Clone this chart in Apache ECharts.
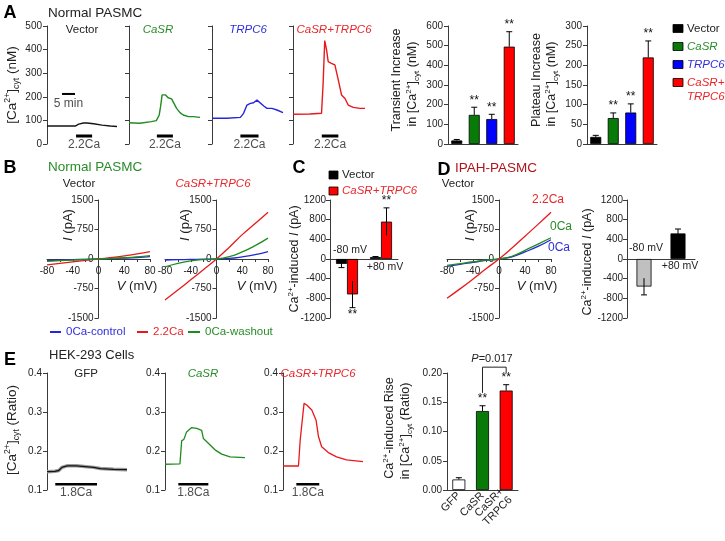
<!DOCTYPE html>
<html><head><meta charset="utf-8">
<script src="https://cdn.jsdelivr.net/npm/echarts@6/dist/echarts.min.js"></script>
<style>html,body{margin:0;padding:0;background:#fff}#c{width:725px;height:541px}</style>
</head><body><div id="c"></div>
<script>
// ================= DATA =================
// Panel A: Ca2+ traces (time min, [Ca2+] nM)
const aVector = [[0,76],[5,76],[10.9,76],[12.2,84],[14.1,89],[15.4,89],[18,86],[21.2,80],[24.4,76],[27,74]];
const aCaSR = [[0,90],[4.1,88],[8.5,95],[10.4,99],[11.5,123],[12.0,158],[12.6,208],[13.0,215],[13.9,208],[14.9,196],[16.2,191],[17.1,172],[18.1,151],[19.4,133],[20.6,123],[22.6,116],[24.5,116],[27,113]];
const aTRPC6 = [[0,109],[5.7,109],[10.8,113],[12.0,130],[13.3,165],[14.6,172],[15.8,175],[17.1,186],[17.8,182],[19.7,161],[20.9,151],[22.8,151],[24.7,144],[27,133]];
const aCaSRTRPC6 = [[0,126],[6.3,127],[10.7,130],[11.3,257],[11.9,438],[12.6,398],[13.2,349],[14.4,342],[15.7,335],[17.0,271],[18.2,208],[19.5,193],[20.7,165],[22.6,155],[25.1,151],[27,151]];
const aTraceTitles = ['Vector','CaSR','TRPC6','CaSR+TRPC6'];
const aCaStart = [11.2,10.6,10.8,10.8];
const aCaEnd = [17.4,16.7,17.7,17.0];
const aCaLevel = 34;
const aScaleBar = [5.8,10.8];
const aScaleLevel = 212;
const aYTicks = [0,500,100];

// Panel A bars
const barCats = ['Vector','CaSR','TRPC6','CaSR+TRPC6'];
const transientMean = [18,148,127,495];
const transientErr = [5,39,24,76];
const plateauMean = [18,66,80,220];
const plateauErr = [4,13,22,42];
const sigA = ['','**','**','**'];

// Panel B: I-V curves
const ivV = [-80,-60,-40,-20,0,20,40,60,80];
const bVecControl = [-40,-28,-18,-8,0,10,22,38,60];
const bVecCa = [-150,-110,-72,-36,0,38,80,130,190];
const bVecWash = [-60,-42,-27,-12,0,14,32,55,85];
const bCoControl = [-25,-18,-12,-5,0,15,55,110,190];
const bCoCa = [-1040,-790,-530,-265,0,300,620,900,1190];
const bCoWash = [-200,-110,-50,-15,0,60,180,340,530];

// Panel C
const cCats = ['-80 mV','+80 mV'];
const cVectorMean = [-100,40];
const cVectorErr = [75,10];
const cCoMean = [-720,760];
const cCoErr = [270,280];
const cSig = ['**','**'];

// Panel D
const dControl = [-190,-135,-85,-35,0,55,180,320,490];
const dCa = [-1000,-760,-510,-250,0,280,580,880,1190];
const dWash = [-160,-115,-70,-30,0,70,220,380,540];
const dCats = ['-80 mV','+80 mV'];
const dMean = [-560,520];
const dErr = [170,90];

// Panel E traces (time a.u., ratio)
const eGFP = [[0,0.147],[3,0.148],[4.4,0.150],[5.6,0.158],[7.5,0.162],[11,0.162],[17.5,0.158],[20,0.155],[25,0.153],[30,0.152]];
const eCaSR = [[0,0.166],[5.6,0.167],[6.25,0.226],[7.1,0.23],[8.1,0.249],[10,0.26],[11.9,0.258],[13.75,0.253],[14.4,0.232],[16.25,0.22],[18.75,0.203],[21.25,0.192],[24.4,0.185],[30,0.183]];
const eCo = [[0,0.1615],[5.8,0.1615],[6.45,0.228],[7.1,0.271],[7.9,0.322],[8.9,0.318],[10.8,0.305],[12.4,0.279],[13.3,0.237],[14.5,0.211],[17,0.196],[20.1,0.185],[23.8,0.177],[30,0.173]];
const eTitles = ['GFP','CaSR','CaSR+TRPC6'];
const eCaStart = [3.1,5,5];
const eCaEnd = [18.75,16.25,13.6];
const eCaLevel = 0.115;

// Panel E bars
const eCats = ['GFP','CaSR','CaSR+\nTRPC6'];
const eMean = [0.018,0.135,0.170];
const eErr = [0.003,0.009,0.010];
const eSig = ['','**','**'];
const eBracket = [[1,0.166],[1,0.21],[2,0.21],[2,0.2]];

// ================= STYLE =================
const FONT = '"Liberation Sans", Arial, Helvetica, sans-serif';
const AX = '#3a3a3a';
const TXT = '#222';
const L_GREEN = '#1f8c1f', L_BLUE = '#2626d9', L_RED = '#e8191c', L_BLACK = '#151515';
const B_BLACK = '#000000', B_GREEN = '#087a08', B_BLUE = '#0000ff', B_RED = '#ff0000';
const T_GREEN = '#2a8c2a', T_BLUE = '#2f2fdc', T_RED = '#e8262b', T_DARKRED = '#b0151c';

const grids = [], xAxis = [], yAxis = [], series = [], G = [];
function addGrid(rect, xa, ya){
  const i = grids.length;
  grids.push(Object.assign({containLabel:false}, rect));
  xAxis.push(Object.assign({gridIndex:i}, xa));
  yAxis.push(Object.assign({gridIndex:i}, ya));
  return i;
}
const axLine = (extra)=>Object.assign({show:true, lineStyle:{color:AX, width:1}}, extra||{});
const axTick = {show:true, length:4, lineStyle:{color:AX, width:1}};
const axLbl = (show, extra)=>Object.assign({show, color:TXT, fontSize:10, fontFamily:FONT, margin:5, formatter:(v)=>String(v)}, extra||{});
const noSplit = {show:false};

function rich(size){
  const base = {fontSize:size, fontFamily:FONT, fill:TXT, color:TXT, lineHeight:size+4};
  return {
    n: base,
    i: Object.assign({}, base, {fontStyle:'italic'}),
    sup: {fontSize:size*0.65, fontFamily:FONT, fill:TXT, color:TXT, lineHeight:size*0.7, verticalAlign:'top'},
    sub: {fontSize:size*0.65, fontFamily:FONT, fill:TXT, color:TXT, lineHeight:size*0.7, verticalAlign:'bottom'}
  };
}
function T(x, y, text, o){
  o = o || {};
  const size = o.size || 11.5;
  const font = (o.italic?'italic ':'') + (o.bold?'bold ':'') + size + 'px ' + FONT;
  const st = {text, font, fill:o.color||TXT, textAlign:o.align||'center', textVerticalAlign:o.va||'middle',
              align:o.align||'center', verticalAlign:o.va||'middle'};
  if (o.rich) st.rich = rich(size);
  G.push({type:'text', x, y, rotation:o.rot||0, z:100, silent:true, style:st});
}
function R(x, y, w, h, color){
  G.push({type:'rect', shape:{x, y, width:w, height:h}, z:100, silent:true, style:{fill:color, stroke:'#000', lineWidth:0.8}});
}
function Ln(x1, y1, x2, y2, color, w){
  G.push({type:'line', shape:{x1, y1, x2, y2}, z:100, silent:true, style:{stroke:color, lineWidth:w||1.5}});
}
function lineSeries(g, data, color, width, extra){
  series.push(Object.assign({type:'line', xAxisIndex:g, yAxisIndex:g, data, symbol:'none', showSymbol:false,
    lineStyle:{color, width:width||1.3}, animation:false, silent:true}, extra||{}));
}
function barMark(g, x0, x1, level, label, width, dist){
  lineSeries(g, [[x0,level],[x1,level]], '#000', width||2.5);
  series.push({type:'scatter', xAxisIndex:g, yAxisIndex:g, data:[[(x0+x1)/2, level]], symbolSize:1,
    itemStyle:{color:'rgba(0,0,0,0)'}, silent:true,
    label:{show:true, formatter:label, position:'bottom', distance:dist||3, color:TXT, fontSize:12, fontFamily:FONT}});
}
function barSeries(g, means, colors, width, extra){
  series.push(Object.assign({type:'bar', xAxisIndex:g, yAxisIndex:g, barWidth:width,
    data: means.map((v,i)=>({value:v, itemStyle:{color:colors[i], borderColor:'#000', borderWidth:0.8}})),
    animation:false, silent:true}, extra||{}));
}
function errSeries(g, means, errs, sigs, offset, both){
  series.push({type:'custom', xAxisIndex:g, yAxisIndex:g, clip:false, z:5, silent:true,
    data: means.map((m,i)=>[i, m, errs[i]]),
    renderItem:(p, api)=>{
      const i = api.value(0), m = api.value(1), e = api.value(2);
      const dir = m >= 0 ? 1 : -1;
      const b = api.coord([i, m]), t = api.coord([i, m + dir*e]), l = api.coord([i, both ? m - dir*e : m]);
      const x = b[0] + offset;
      const ch = [
        {type:'line', shape:{x1:x, y1:l[1], x2:x, y2:t[1]}, style:{stroke:'#000', lineWidth:1}},
        {type:'line', shape:{x1:x-3, y1:t[1], x2:x+3, y2:t[1]}, style:{stroke:'#000', lineWidth:1}}
      ];
      const s = sigs && sigs[p.dataIndex];
      if (s) ch.push({type:'text', style:{text:s, x:x, y:t[1] - dir*1, textAlign:'center', align:'center',
        textVerticalAlign: dir>0?'bottom':'top', verticalAlign: dir>0?'bottom':'top',
        font:'12px ' + FONT, fill:'#111'}});
      return {type:'group', children:ch};
    }});
}

// ================= PANEL A =================
T(10, 13, 'A', {bold:true, size:18, color:'#000'});
T(48, 13, 'Normal PASMC', {size:13.5, align:'left'});
T(12, 85, '{n|[Ca}{sup|2+}{n|]}{sub|cyt}{n| (nM)}', {size:13.5, rot:Math.PI/2, rich:true});
const aTraces = [aVector, aCaSR, aTRPC6, aCaSRTRPC6];
const aColors = [L_BLACK, L_GREEN, L_BLUE, L_RED];
const aTitleColors = [TXT, T_GREEN, T_BLUE, T_RED];
const aLefts = [47, 129, 212, 293], aWidths = [70, 71, 71, 72];
const aTitleX = [82, 158, 248, 334];
aTraces.forEach((tr, k)=>{
  const g = addGrid({left:aLefts[k], top:26, width:aWidths[k], height:118},
    {type:'value', min:0, max:27, show:false},
    {type:'value', min:aYTicks[0], max:aYTicks[1], interval:aYTicks[2], axisLine:axLine(), axisTick:axTick,
     axisLabel:axLbl(k===0), splitLine:noSplit});
  lineSeries(g, tr, aColors[k], 1.4);
  barMark(g, aCaStart[k], aCaEnd[k], aCaLevel, '2.2Ca', 3, 2);
  if (k===0) barMark(g, aScaleBar[0], aScaleBar[1], aScaleLevel, '5 min', 2, 3);
  T(aTitleX[k], 30, aTraceTitles[k], {color:aTitleColors[k], italic:k>0, size:11.5});
});

// Transient bars
const aBarColors = [B_BLACK, B_GREEN, B_BLUE, B_RED];
const gT = addGrid({left:448, top:26, width:70, height:118},
  {type:'category', data:barCats, axisLine:axLine(), axisTick:{show:false}, axisLabel:{show:false}},
  {type:'value', min:0, max:600, interval:100, axisLine:axLine(), axisTick:axTick, axisLabel:axLbl(true), splitLine:noSplit});
barSeries(gT, transientMean, aBarColors, 11);
errSeries(gT, transientMean, transientErr, sigA, 0, false);
T(397, 80, 'Transient Increase', {size:12.5, rot:Math.PI/2});
T(413, 84, '{n|in [Ca}{sup|2+}{n|]}{sub|cyt}{n| (nM)}', {size:12.5, rot:Math.PI/2, rich:true});

// Plateau bars
const gP = addGrid({left:587, top:26, width:70, height:118},
  {type:'category', data:barCats, axisLine:axLine(), axisTick:{show:false}, axisLabel:{show:false}},
  {type:'value', min:0, max:300, interval:50, axisLine:axLine(), axisTick:axTick, axisLabel:axLbl(true), splitLine:noSplit});
barSeries(gP, plateauMean, aBarColors, 11);
errSeries(gP, plateauMean, plateauErr, sigA, 0, false);
T(537, 80, 'Plateau Increase', {size:12.5, rot:Math.PI/2});
T(552, 84, '{n|in [Ca}{sup|2+}{n|]}{sub|cyt}{n| (nM)}', {size:12.5, rot:Math.PI/2, rich:true});

// Legend A
const legA = [['Vector',B_BLACK,TXT,false,28.5],['CaSR',B_GREEN,T_GREEN,true,46.5],['TRPC6',B_BLUE,T_BLUE,true,64.5],['CaSR+',B_RED,T_RED,true,82.5]];
legA.forEach(l=>{ R(673, l[4]-4, 10, 8, l[1]); T(687, l[4], l[0], {align:'left', color:l[2], italic:l[3], size:11.5}); });
T(687, 97, 'TRPC6', {align:'left', color:T_RED, italic:true, size:11.5});

// ================= PANEL B =================
T(10, 168, 'B', {bold:true, size:18, color:'#000'});
T(48, 167, 'Normal PASMC', {size:13.5, align:'left', color:T_GREEN});
T(79, 184, 'Vector', {size:11.5});
T(213, 184, 'CaSR+TRPC6', {size:11.5, italic:true, color:T_RED});
function ivGrid(left, width){
  const height = 118;
  return addGrid({left, top:200, width, height},
    {type:'value', min:-80, max:80, interval:40, position:'bottom', offset:-height/2,
     axisLine:axLine({onZero:false}), axisTick:{show:true, length:3, lineStyle:{color:AX}},
     minorTick:{show:true, splitNumber:2, length:3, lineStyle:{color:AX}},
     axisLabel:axLbl(true, {margin:7}), splitLine:noSplit, minorSplitLine:noSplit},
    {type:'value', min:-1500, max:1500, interval:750, position:'left', offset:-width/2,
     axisLine:axLine({onZero:false}), axisTick:axTick,
     axisLabel:axLbl(true, {margin:5}), splitLine:noSplit});
}
const pair = (ys)=>ivV.map((v,i)=>[v, ys[i]]);
const gB1 = ivGrid(47, 103);
lineSeries(gB1, pair(bVecControl), L_BLUE, 1.3, {smooth:true});
lineSeries(gB1, pair(bVecCa), L_RED, 1.3, {smooth:true});
lineSeries(gB1, pair(bVecWash), L_GREEN, 1.3, {smooth:true});
T(68, 225, '{i|I}{n| (pA)}', {size:13, rot:Math.PI/2, rich:true});
T(137, 286, '{i|V}{n| (mV)}', {size:13, rich:true});
const gB2 = ivGrid(165, 103);
lineSeries(gB2, pair(bCoControl), L_BLUE, 1.3, {smooth:true});
lineSeries(gB2, pair(bCoCa), L_RED, 1.3, {smooth:true});
lineSeries(gB2, pair(bCoWash), L_GREEN, 1.3, {smooth:true});
T(185, 225, '{i|I}{n| (pA)}', {size:13, rot:Math.PI/2, rich:true});
T(257, 286, '{i|V}{n| (mV)}', {size:13, rich:true});
// legend B
Ln(50, 332, 61, 332, L_BLUE, 2); T(66, 332, '0Ca-control', {align:'left', color:T_BLUE, size:11.5});
Ln(137, 332, 148, 332, L_RED, 2); T(153, 332, '2.2Ca', {align:'left', color:T_RED, size:11.5});
Ln(188, 332, 200, 332, L_GREEN, 2); T(205, 332, '0Ca-washout', {align:'left', color:T_GREEN, size:11.5});

// ================= PANEL C =================
T(299, 168, 'C', {bold:true, size:18, color:'#000'});
R(329, 171, 9, 8, B_BLACK); T(342, 175, 'Vector', {align:'left', size:11.5});
R(329, 187, 9, 8, B_RED); T(342, 191, 'CaSR+TRPC6', {align:'left', size:11.5, italic:true, color:T_RED});
const gC = addGrid({left:330, top:200, width:68, height:118},
  {type:'category', data:cCats, axisLine:axLine({onZero:true}), axisTick:{show:false}, axisLabel:{show:false}},
  {type:'value', min:-1200, max:1200, interval:400, axisLine:axLine(), axisTick:axTick, axisLabel:axLbl(true, {margin:4}), splitLine:noSplit});
barSeries(gC, cVectorMean, [B_BLACK,B_BLACK], 11, {barGap:'0%'});
barSeries(gC, cCoMean, [B_RED,B_RED], 11, {barGap:'0%'});
errSeries(gC, cVectorMean, cVectorErr, null, -5.5, true);
errSeries(gC, cCoMean, cCoErr, cSig, 5.5, true);
T(295, 259, '{n|Ca}{sup|2+}{n|-induced }{i|I}{n| (pA)}', {size:12.5, rot:Math.PI/2, rich:true});
T(350, 250, '-80 mV', {size:10.5});
T(385, 267, '+80 mV', {size:10.5});

// ================= PANEL D =================
T(444, 170, 'D', {bold:true, size:18, color:'#000'});
T(455, 168, 'IPAH-PASMC', {size:13.5, align:'left', color:T_DARKRED});
T(458, 184, 'Vector', {size:11.5});
const gD1 = ivGrid(447, 104);
lineSeries(gD1, pair(dControl), L_BLUE, 1.3, {smooth:true});
lineSeries(gD1, pair(dWash), L_GREEN, 1.3, {smooth:true});
lineSeries(gD1, pair(dCa), L_RED, 1.3, {smooth:true});
T(470, 225, '{i|I}{n| (pA)}', {size:13, rot:Math.PI/2, rich:true});
T(537, 286, '{i|V}{n| (mV)}', {size:13, rich:true});
T(532, 200, '2.2Ca', {align:'left', color:T_RED, size:12});
T(550, 227, '0Ca', {align:'left', color:T_GREEN, size:12});
T(548, 248, '0Ca', {align:'left', color:T_BLUE, size:12});
const gD2 = addGrid({left:627, top:200, width:68, height:118},
  {type:'category', data:dCats, axisLine:axLine({onZero:true}), axisTick:{show:false}, axisLabel:{show:false}},
  {type:'value', min:-1200, max:1200, interval:400, axisLine:axLine(), axisTick:axTick, axisLabel:axLbl(true, {margin:4}), splitLine:noSplit});
barSeries(gD2, dMean, ['#c0c0c0', B_BLACK], 15);
errSeries(gD2, dMean, dErr, null, 0, true);
T(588, 262, '{n|Ca}{sup|2+}{n|-induced }{i|I}{n| (pA)}', {size:12.5, rot:Math.PI/2, rich:true});
T(646, 248, '-80 mV', {size:10.5});
T(680, 266, '+80 mV', {size:10.5});

// ================= PANEL E =================
T(10, 360, 'E', {bold:true, size:18, color:'#000'});
T(49, 355, 'HEK-293 Cells', {size:13, align:'left'});
T(12, 430, '{n|[Ca}{sup|2+}{n|]}{sub|cyt}{n| (Ratio)}', {size:13.5, rot:Math.PI/2, rich:true});
const eTraces = [eGFP, eCaSR, eCo];
const eColors = [L_BLACK, L_GREEN, L_RED];
const eTitleColors = [TXT, T_GREEN, T_RED];
const eLefts = [47, 165, 283];
const eTitleX = [86, 203, 318];
eTraces.forEach((tr, k)=>{
  const g = addGrid({left:eLefts[k], top:373, width:80, height:117},
    {type:'value', min:0, max:30, show:false},
    {type:'value', min:0.1, max:0.4, interval:0.1, axisLine:axLine(), axisTick:axTick,
     axisLabel:axLbl(true, {formatter:(v)=>v.toFixed(1)}), splitLine:noSplit});
  if (k===0) lineSeries(g, tr, '#9a9a9a', 3.5);
  lineSeries(g, tr, eColors[k], 1.3);
  barMark(g, eCaStart[k], eCaEnd[k], eCaLevel, '1.8Ca', 2.5, 2);
  T(eTitleX[k], 374, eTitles[k], {color:eTitleColors[k], italic:k>0, size:11.5});
});
const gE = addGrid({left:447, top:373, width:71, height:117},
  {type:'category', data:eCats, axisLine:axLine(), axisTick:{show:false},
   axisLabel:{show:true, rotate:45, interval:0, color:TXT, fontSize:11, fontFamily:FONT, margin:4, lineHeight:12}},
  {type:'value', min:0, max:0.2, interval:0.05, axisLine:axLine(), axisTick:axTick,
   axisLabel:axLbl(true, {formatter:(v)=>v.toFixed(2)}), splitLine:noSplit});
barSeries(gE, eMean, ['#ffffff', B_GREEN, B_RED], 13);
errSeries(gE, eMean, eErr, eSig, 0, false);
lineSeries(gE, eBracket, '#222', 1, {clip:false});
T(492, 359, '{i|P}{n|=0.017}', {size:11, rich:true});
T(390, 428, '{n|Ca}{sup|2+}{n|-induced Rise}', {size:12.5, rot:Math.PI/2, rich:true});
T(406, 431, '{n|in [Ca}{sup|2+}{n|]}{sub|cyt}{n| (Ratio)}', {size:12.5, rot:Math.PI/2, rich:true});

// ================= RENDER =================
const chart = echarts.init(document.getElementById('c'), null, {renderer:'canvas', width:725, height:541});
chart.setOption({
  animation:false,
  backgroundColor:'#ffffff',
  textStyle:{fontFamily:FONT},
  grid:grids, xAxis, yAxis, series, graphic:G
});
</script></body></html>
